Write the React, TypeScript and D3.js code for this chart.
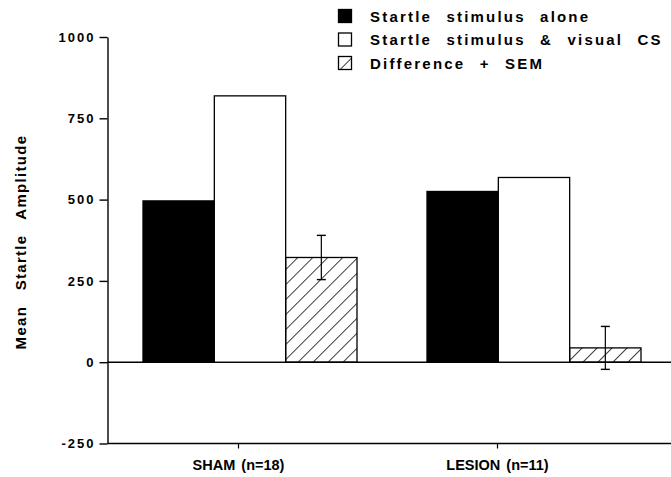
import React, { useEffect, useRef } from "react";
import * as d3 from "d3";

// values
const groups = ["SHAM (n=18)", "LESION (n=11)"];
const seriesNames = ["Startle stimulus alone", "Startle stimulus & visual CS", "Difference + SEM"];
const stimulusAlone = [496, 525];
const stimulusWithCS = [819, 568];
const difference = [322, 44];
const differenceSem = [68, 66];
const yTicks = [-250, 0, 250, 500, 750, 1000];

const W = 671;
const H = 477;
const FONT = "'Liberation Sans', Arial, Helvetica, sans-serif";

export default function App() {
  const ref = useRef<SVGSVGElement>(null);

  useEffect(() => {
    var svg = d3.select(ref.current);
    svg.selectAll("*").remove();

    // hatch pattern for the difference bars
    var defs = svg.append("defs");
    defs.append("pattern")
      .attr("id", "hatch")
      .attr("patternUnits", "userSpaceOnUse")
      .attr("width", 10.6)
      .attr("height", 10.6)
      .attr("patternTransform", "rotate(45)")
      .append("line")
      .attr("x1", 0).attr("y1", 0)
      .attr("x2", 0).attr("y2", 10.6)
      .attr("stroke", "#000")
      .attr("stroke-width", 1.5);

    // Scales
    var y = d3.scaleLinear().domain([-250, 1000]).range([443.5, 37]);
    var xGroup = d3.scaleBand<string>().domain(groups).range([143, 641]).paddingInner(70 / 284).paddingOuter(0);
    var xSeries = d3.scaleBand<string>().domain(seriesNames).range([0, xGroup.bandwidth()]);
    var xLabel = d3.scalePoint<string>().domain(groups).range([238, 497]);
    var axisX = 107.5;

    // y axis
    var yAxis = svg.append("g")
      .attr("transform", "translate(" + axisX + ",0)")
      .call(d3.axisLeft(y).tickValues(yTicks).tickSize(8).tickSizeOuter(0).tickPadding(4).tickFormat(function (d) { return String(d); }));
    yAxis.select(".domain").attr("stroke-width", 1.4);
    yAxis.selectAll(".tick line").attr("stroke-width", 1.4);
    yAxis.selectAll("text")
      .attr("font-family", FONT)
      .attr("font-weight", "bold")
      .attr("font-size", 13)
      .attr("letter-spacing", 2)
      .attr("fill", "#000");

    // zero line and bottom axis line
    svg.append("line")
      .attr("x1", axisX).attr("x2", W)
      .attr("y1", y(0)).attr("y2", y(0))
      .attr("stroke", "#000").attr("stroke-width", 1.4);
    svg.append("line")
      .attr("x1", axisX).attr("x2", W)
      .attr("y1", y(-250)).attr("y2", y(-250))
      .attr("stroke", "#000").attr("stroke-width", 1.4);

    var xAxis = svg.append("g")
      .attr("transform", "translate(0," + y(-250) + ")")
      .call(d3.axisBottom(xLabel).tickSize(5).tickPadding(11));
    xAxis.select(".domain").remove();
    xAxis.selectAll(".tick line").attr("stroke-width", 1.2);
    xAxis.selectAll("text")
      .attr("font-family", FONT)
      .attr("font-weight", "bold")
      .attr("font-size", 14.5)
      .attr("word-spacing", 2)
      .attr("fill", "#000");

    // y title
    svg.append("text")
      .attr("transform", "translate(26,242) rotate(-90)")
      .attr("text-anchor", "middle")
      .attr("font-family", FONT)
      .attr("font-weight", "bold")
      .attr("font-size", 15)
      .attr("letter-spacing", 1.3)
      .attr("word-spacing", 10)
      .text("Mean Startle Amplitude");

    // bars
    var series = [stimulusAlone, stimulusWithCS, difference];
    var fills = ["#000", "#fff", "url(#hatch)"];
    groups.forEach(function (g, i) {
      series.forEach(function (vals, j) {
        var v = vals[i];
        svg.append("rect")
          .attr("x", (xGroup(g) as number) + (xSeries(seriesNames[j]) as number))
          .attr("y", y(Math.max(0, v)))
          .attr("width", xSeries.bandwidth())
          .attr("height", Math.abs(y(v) - y(0)))
          .attr("fill", fills[j])
          .attr("stroke", "#000")
          .attr("stroke-width", 1.3);
      });
      // error bar
      var cx = (xGroup(g) as number) + (xSeries(seriesNames[2]) as number) + xSeries.bandwidth() / 2;
      var lo = y(difference[i] - differenceSem[i]);
      var hi = y(difference[i] + differenceSem[i]);
      svg.append("line")
        .attr("x1", cx).attr("x2", cx).attr("y1", hi).attr("y2", lo)
        .attr("stroke", "#000").attr("stroke-width", 1.2);
      [hi, lo].forEach(function (yy) {
        svg.append("line")
          .attr("x1", cx - 4.5).attr("x2", cx + 4.5).attr("y1", yy).attr("y2", yy)
          .attr("stroke", "#000").attr("stroke-width", 1.4);
      });
    });

    // legend
    var legend = svg.append("g").attr("transform", "translate(338,9)");
    seriesNames.forEach(function (name, j) {
      var row = legend.append("g").attr("transform", "translate(0," + j * 23.5 + ")");
      row.append("rect")
        .attr("x", 0.5).attr("y", 0.5)
        .attr("width", 13).attr("height", 13)
        .attr("fill", fills[j])
        .attr("stroke", "#000")
        .attr("stroke-width", 1.3);
      row.append("text")
        .attr("x", 32)
        .attr("y", 12.5)
        .attr("font-family", FONT)
        .attr("font-weight", "bold")
        .attr("font-size", 15)
        .attr("letter-spacing", 2.2)
        .attr("word-spacing", 8)
        .text(name);
    });
  }, []);

  return (
    <svg
      ref={ref}
      width={W}
      height={H}
      style={{ position: "absolute", left: 0, top: 0, background: "#fff" }}
    ></svg>
  );
}
